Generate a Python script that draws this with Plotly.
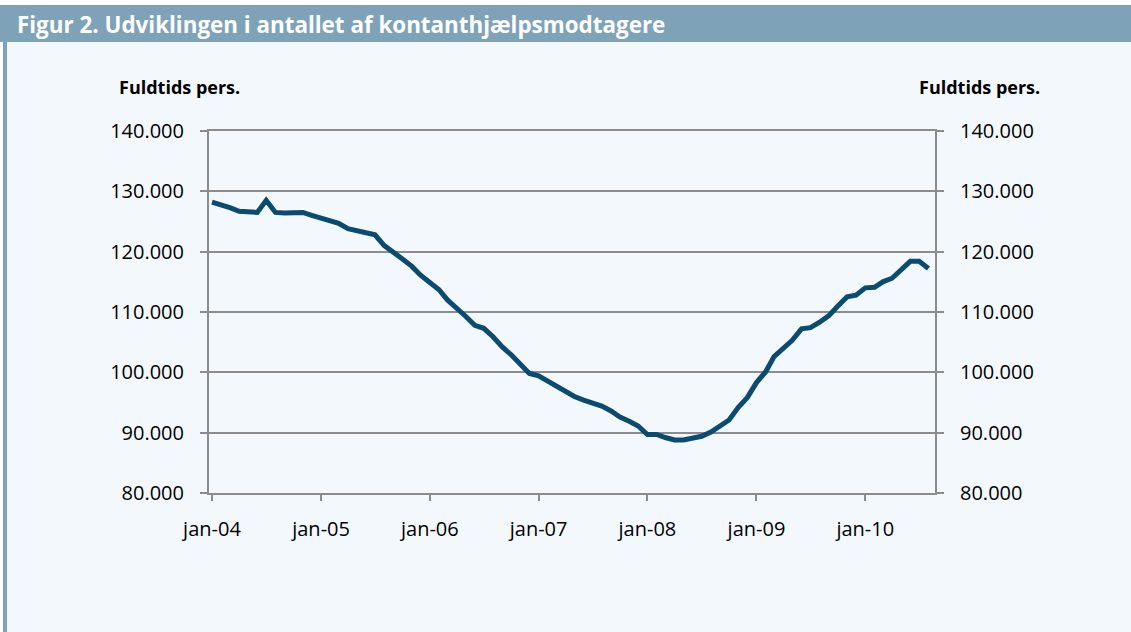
import plotly.graph_objects as go
import pandas as pd

# ---- data ----
months = pd.date_range("2004-01-01", periods=80, freq="MS")
values = [
    128.2, 127.8, 127.3, 126.7, 126.5, 126.5, 128.5, 126.5, 126.4, 126.5, 126.5, 126.0,  # 2004
    125.6, 125.0, 124.7, 123.8, 123.4, 123.1, 122.8, 121.0, 120.0, 118.8, 117.6, 116.1,  # 2005
    114.9, 113.7, 112.0, 110.7, 109.3, 107.8, 107.3, 105.9, 104.2, 102.9, 101.2, 99.8,   # 2006
    99.4, 98.5, 97.6, 96.9, 96.0, 95.4, 94.9, 94.4, 93.6, 92.6, 91.9, 91.1,              # 2007
    89.7, 89.7, 89.2, 88.8, 88.8, 89.0, 89.4, 90.1, 91.0, 92.1, 94.2, 95.8,              # 2008
    98.3, 100.1, 102.6, 104.0, 105.3, 107.2, 107.4, 108.3, 109.4, 111.0, 112.5, 112.8,   # 2009
    114.0, 114.1, 115.0, 115.6, 116.9, 118.4, 118.4, 117.2,                              # 2010
]
values = [v * 1000 for v in values]

x_tickvals = ["2004-01-01", "2005-01-01", "2006-01-01", "2007-01-01",
              "2008-01-01", "2009-01-01", "2010-01-01"]
x_ticktext = ["jan-04", "jan-05", "jan-06", "jan-07", "jan-08", "jan-09", "jan-10"]
y_tickvals = [80000, 90000, 100000, 110000, 120000, 130000, 140000]

title_text = "Figur 2. Udviklingen i antallet af kontanthjælpsmodtagere"
axis_title = "Fuldtids pers."

# ---- layout geometry ----
W, H = 1131, 632
L, R, T, B = 209, 196, 131, 139
PW, PH = W - L - R, H - T - B

def px(xp):
    return (xp - L) / PW

def py(yp):
    return (H - B - yp) / PH

BG = "#F3F8FD"
BAR = "#7EA3B8"
GRID = "#8C8C8C"
LINE = "#0B4B70"
FONT = "Open Sans"

fig = go.Figure()
fig.add_trace(go.Scatter(
    x=months, y=values, mode="lines",
    line=dict(color=LINE, width=5), hoverinfo="skip", showlegend=False,
))
# invisible copy so the right-hand axis is drawn
fig.add_trace(go.Scatter(
    x=months, y=values, mode="lines", yaxis="y2", opacity=0,
    line=dict(color=LINE, width=0), hoverinfo="skip", showlegend=False,
))

shapes = [
    dict(type="rect", xref="paper", yref="paper", x0=px(0), x1=px(W), y0=py(0), y1=py(5),
         fillcolor="white", line=dict(width=0), layer="below"),
    dict(type="rect", xref="paper", yref="paper", x0=px(0), x1=px(W), y0=py(5), y1=py(42),
         fillcolor=BAR, line=dict(width=0), layer="below"),
    dict(type="rect", xref="paper", yref="paper", x0=px(0), x1=px(3), y0=py(42), y1=py(H),
         fillcolor="white", line=dict(width=0), layer="below"),
    dict(type="rect", xref="paper", yref="paper", x0=px(3), x1=px(7), y0=py(42), y1=py(H),
         fillcolor=BAR, line=dict(width=0), layer="below"),
]

annotations = [
    dict(text=f"<b>{title_text}</b>", xref="paper", yref="paper", x=px(15), y=py(25),
         xanchor="left", yanchor="middle", showarrow=False,
         font=dict(family=FONT, size=22.4, color="white")),
    dict(text=f"<b>{axis_title}</b>", xref="paper", yref="paper", x=px(179), y=py(87),
         xanchor="center", yanchor="middle", showarrow=False,
         font=dict(family=FONT, size=18, color="black")),
    dict(text=f"<b>{axis_title}</b>", xref="paper", yref="paper", x=px(980), y=py(87),
         xanchor="center", yanchor="middle", showarrow=False,
         font=dict(family=FONT, size=18, color="black")),
]

yaxis_common = dict(
    range=[80000, 140000], tickvals=y_tickvals, tickformat=",d",
    showline=True, linecolor=GRID, linewidth=2,
    ticks="outside", ticklen=7, tickwidth=2, tickcolor=GRID,
    tickfont=dict(family=FONT, size=20, color="black"),
    ticklabelstandoff=12, zeroline=False, fixedrange=True,
)

fig.update_layout(
    width=W, height=H,
    margin=dict(l=L, r=R, t=T, b=B, pad=0),
    paper_bgcolor=BG, plot_bgcolor=BG,
    separators=",.",
    showlegend=False,
    shapes=shapes,
    annotations=annotations,
    xaxis=dict(
        type="date", range=["2003-12-22", "2010-08-23"],
        tickvals=x_tickvals, ticktext=x_ticktext,
        showline=True, mirror=True, linecolor=GRID, linewidth=2,
        ticks="outside", ticklen=6, tickwidth=2, tickcolor=GRID,
        tickfont=dict(family=FONT, size=20, color="black"),
        ticklabelstandoff=11, showgrid=False, zeroline=False, fixedrange=True,
    ),
    yaxis=dict(**yaxis_common, side="left", showgrid=True, gridcolor=GRID, gridwidth=2),
    yaxis2=dict(**yaxis_common, side="right", overlaying="y", showgrid=False),
)

fig.write_html(
    "out.html",
    config={"displayModeBar": False, "staticPlot": True},
    post_script="document.body.style.margin='0';document.body.style.overflow='hidden';",
)
